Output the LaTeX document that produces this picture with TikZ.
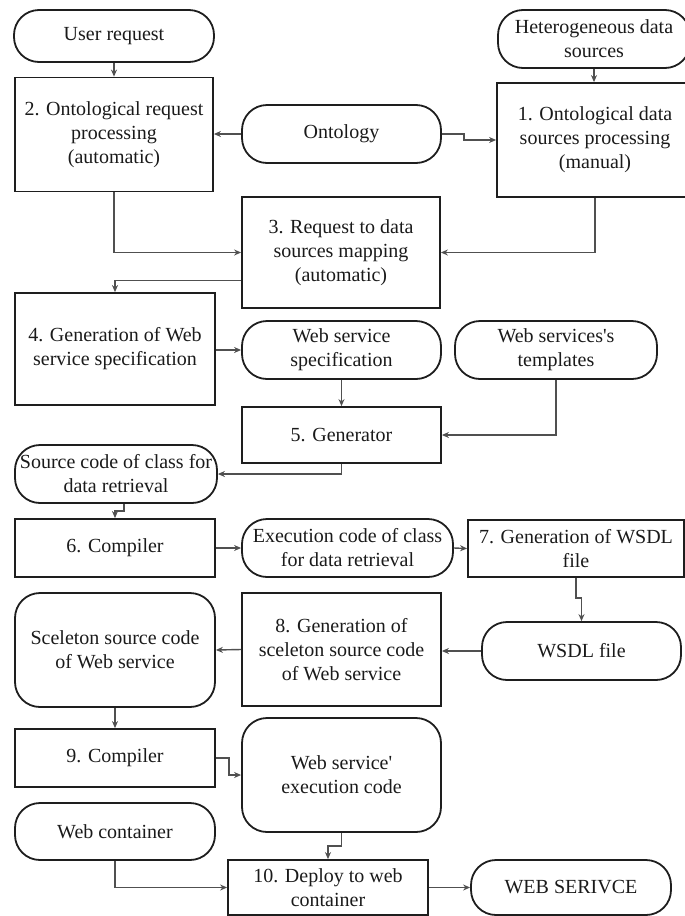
\documentclass[tikz,border=0pt]{standalone}
\usepackage{fontspec}
\setmainfont{Liberation Serif}
\usetikzlibrary{arrows.meta}
\definecolor{boxc}{HTML}{1E1E1E}
\definecolor{linec}{HTML}{505050}
\definecolor{textc}{HTML}{1A1A1A}
\newcommand{\apos}{\textquotesingle}
\tikzset{
  sz/.style 2 args={minimum width=#1pt, minimum height=#2pt},
  proc/.style={draw=boxc, line width=1.8pt, align=center, inner sep=0pt,
    text=textc, font=\fontsize{20}{24}\selectfont},
  term/.style={proc, rounded corners=25pt},
  conn/.style={draw=linec, line width=1.4pt, -{Stealth[length=7pt,width=6pt]}}
}
\begin{document}
\begin{tikzpicture}[x=1pt, y=-1pt]
\useasboundingbox (0,0) rectangle (685,916);

% inputs and processing steps
\node[term, sz={200}{52}]  (ureq)  at (114,36)    {User request};
\node[proc, sz={198}{114}] (p2)    at (114,134.5) {2. Ontological request\\processing\\(automatic)};
\node[term, sz={192}{58}]  (het)   at (594,39)    {Heterogeneous data\\sources};
\node[proc, sz={196}{114}] (p1)    at (595,140)   {1. Ontological data\\sources processing\\(manual)};
\node[term, sz={199}{58}]  (onto)  at (341.5,134) {Ontology};
\node[proc, sz={198}{111}] (p3)    at (341,252.5) {3. Request to data\\sources mapping\\(automatic)};
\node[proc, sz={200}{112}] (p4)    at (115,349)   {4. Generation of Web\\service specification};
\node[term, sz={199}{58}]  (spec)  at (341.5,350) {Web service\\specification};
\node[term, sz={202}{58}]  (tmpl)  at (556,350)   {Web services\apos s\\templates};
\node[proc, sz={199}{56}]  (p5)    at (341.5,435) {5. Generator};
\node[term, sz={202}{58}]  (src)   at (116,474)   {Source code of class for\\data retrieval};
\node[proc, sz={200}{58}]  (p6)    at (115,548)   {6. Compiler};
\node[term, sz={211}{58}]  (exe)   at (347.5,548) {Execution code of class\\for data retrieval};
\node[proc, sz={216}{57}]  (p7)    at (576,548.5) {7. Generation of WSDL\\file};
\node[proc, sz={199}{113}] (p8)    at (341.5,649.5) {8. Generation of\\sceleton source code\\of Web service};
\node[term, sz={199}{58}]  (wsdl)  at (581.5,651) {WSDL file};
\node[term, sz={200}{114}] (skel)  at (115,650)   {Sceleton source code\\of Web service};
\node[proc, sz={200}{58}]  (p9)    at (115,758)   {9. Compiler};
\node[term, sz={199}{114}] (wsexe) at (341.5,775) {Web service\apos\\execution code};
\node[term, sz={200}{57}]  (cont)  at (115,831.5) {Web container};
\node[proc, sz={200}{55}]  (p10)   at (328,887.5) {10. Deploy to web\\container};
\node[term, sz={200}{55}]  (ws)    at (571,887.5) {WEB SERIVCE};

% flow
\draw[conn] (ureq.south) -- (p2.north);
\draw[conn] (het.south) -- (het.south |- p1.north);
\draw[conn] (onto.west) -- (onto.west -| p2.east);
\draw[conn] (onto.east) -- ++(22,0) -- ++(0,6) coordinate (oj) -- (oj -| p1.west);
\draw[conn] (p2.south) |- (p3.west);
\draw[conn] (p1.south) |- (p3.east);
\draw[conn] ([yshift=-28pt]p3.west) -| (p4.north);
\draw[conn] (p4.east |- spec.west) -- (spec.west);
\draw[conn] (spec.south) -- (p5.north);
\draw[conn] (tmpl.south) |- (p5.east);
\draw[conn] (p5.south) |- (src.east);
\draw[conn] ([xshift=8pt]src.south) |- ([yshift=7pt]p6.north) -- (p6.north);
\draw[conn] (p6.east) -- (exe.west);
\draw[conn] (exe.east) -- (p7.west);
\draw[conn] (p7.south) -- ++(0,20) -| (wsdl.north);
\draw[conn] (wsdl.west) -- (wsdl.west -| p8.east);
\draw[conn] (p8.west) -- (skel.east);
\draw[conn] (skel.south) -- (p9.north);
\draw[conn] (p9.east) -- ++(13,0) |- (wsexe.west);
\draw[conn] (wsexe.south) -- ++(0,13) -| (p10.north);
\draw[conn] (cont.south) |- (p10.west);
\draw[conn] (p10.east) -- (ws.west);
\end{tikzpicture}
\end{document}
